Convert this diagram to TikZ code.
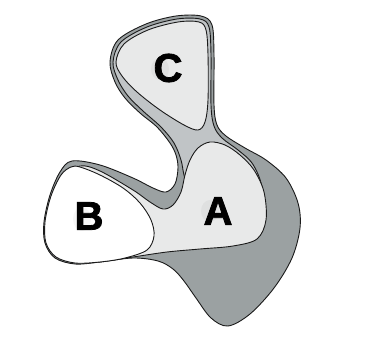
\documentclass[tikz,border=0pt]{standalone}
\usepackage{fontspec}
\setmainfont{Liberation Sans}
\newfontfamily\heavyfont{Liberation Sans Bold}[FakeBold=2]
\definecolor{darkg}{HTML}{9BA1A2}
\definecolor{midg}{HTML}{C0C4C6}
\definecolor{lightg}{HTML}{E8E9E9}
\definecolor{edge}{HTML}{1A1A1A}
\tikzset{
  region/.style={draw=edge, line width=0.9pt, line join=round},
  lbl/.style={font=\heavyfont\fontsize{40}{40}\selectfont, inner sep=0pt},
  shade/.style={fill=black, fill opacity=0.035, draw=none}
}
\begin{document}
\begin{tikzpicture}[x=1pt,y=-1pt]
\useasboundingbox[fill=white] (0,0) rectangle (382,339);
% outer dark blob
\path[region, fill=darkg] plot[smooth cycle, tension=0.55] coordinates {
 (110,62) (118,40) (146,24) (176,16) (201,16) (212,25) (214,55) (214,105)
 (217,125) (226,136) (245,148) (266,160) (286,178) (298,203) (300,228)
 (292,258) (274,288) (250,314) (228,326) (211,318) (196,298) (184,281)
 (173,269) (158,261) (133,258) (100,262) (75,264) (55,258) (45,243)
 (44,222) (50,195) (60,172) (72,161) (100,165) (133,178) (153,188)
 (166,192) (175,184) (178,168) (176,155) (170,143) (157,127) (140,113)
 (125,98) (115,82)};
% mid gray neck region around C
\path[region, fill=midg] plot[smooth cycle, tension=0.55] coordinates {
 (113,62) (121,42) (147,27) (177,19) (200,19) (209,27) (211,55) (211,105)
 (214,126) (222,138) (238,150) (252,163) (261,183) (262,205) (240,225)
 (205,215) (190,195) (184,175) (181,160) (174,143) (161,127) (143,111)
 (128,96) (118,80)};
% A light region with tail
\path[region, fill=lightg] plot[smooth, tension=0.55] coordinates {
 (99,262) (133,257) (167,252) (200,249) (233,246) (257,239) (266,220)
 (264,192) (254,170) (240,155) (225,145) (210,142) (198,148) (190,160)
 (185,175) (181,192) (173,205) (163,209) (150,202) (133,190) (100,171)
 (80,166) (64,178)} -- (80,240) -- cycle;
% B white
\path[region, fill=white] plot[smooth cycle, tension=0.55] coordinates {
 (80,167) (100,175) (123,188) (140,203) (151,220) (154,236) (147,250)
 (125,258) (100,262) (75,263) (56,257) (46,243) (45,222) (51,196)
 (61,175) (71,167)};
% C light
\path[region, fill=lightg] plot[smooth cycle, tension=0.55] coordinates {
 (116,62) (124,44) (148,30) (178,22) (199,22) (206,30) (208,55) (208,100)
 (205,122) (198,130) (184,125) (160,110) (137,92) (122,76)};
% faint shadows behind letters
\path[shade] (160,69) ellipse (9 and 11);
\path[shade] (82,219) ellipse (9 and 12);
\path[shade] (210,211) ellipse (9 and 11);
% labels
\node[lbl] (C) at (168,68) {C};
\node[lbl] (B) at (89,216) {B};
\node[lbl] (A) at (218,211) {A};
\end{tikzpicture}
\end{document}
